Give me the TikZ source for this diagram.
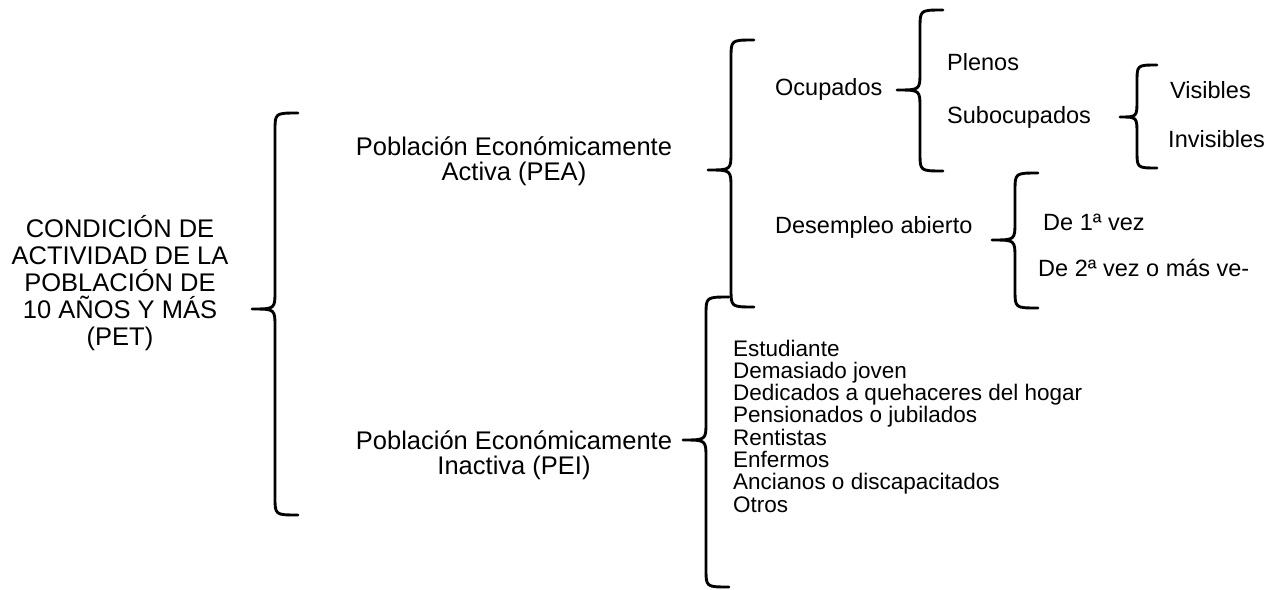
\documentclass[tikz,border=0pt]{standalone}
\usepackage{fontspec}
\setmainfont{Liberation Sans}
\usepackage{tikz}
\usetikzlibrary{positioning, calc}

\tikzset{
    texto/.style={inner sep=0pt, font=\fontsize{23.5}{27}\selectfont},
    titulo/.style={inner sep=0pt, align=center, font=\fontsize{25.5}{27}\selectfont},
    lista/.style={inner sep=0pt, anchor=base west, font=\fontsize{22.5}{26}\selectfont},
    llavetrazo/.style={line width=2.9pt, line cap=round, line join=round}
}

% llave: tip x, tip y, top y, bottom y
\newcommand{\llave}[4]{%
    \draw[llavetrazo] ({#1+46},#3) .. controls ({#1+23},#3) .. ({#1+23},{#3+18})
        -- ({#1+23},{#2-18}) .. controls ({#1+23},#2) .. (#1,#2)
        .. controls ({#1+23},#2) .. ({#1+23},{#2+18})
        -- ({#1+23},{#4-18}) .. controls ({#1+23},#4) .. ({#1+46},#4);}

\begin{document}
\begin{tikzpicture}[x=1pt, y=-1pt]
    \useasboundingbox (0,0) rectangle (1273,589);

    % raiz
    \node[titulo] (pet) at (120,283)
        {CONDICIÓN DE\\ACTIVIDAD DE LA\\POBLACIÓN DE\\10 AÑOS Y MÁS\\(PET)};
    \llave{252}{309}{113}{515}

    % activa
    \node[titulo, font=\fontsize{25.5}{25}\selectfont] (pea) at (514,161)
        {Población Económicamente\\Activa (PEA)};
    \llave{708}{170}{40}{307}

    \node[texto, anchor=base west] (ocupados) at (775,95) {Ocupados};
    \llave{897}{90}{10}{171}
    \node[texto, anchor=base west] (plenos) at (947,70) {Plenos};
    \node[texto, anchor=base west] (subocupados) at (947,123) {Subocupados};
    \draw[llavetrazo] (1157,65) .. controls (1137,65) .. (1137,82) -- (1137,100)
        .. controls (1137,117) .. (1120,117) .. controls (1137,117) .. (1137,134)
        -- (1137,151) .. controls (1137,168) .. (1157,168);
    \node[texto, anchor=base west] (visibles) at (1170,98) {Visibles};
    \node[texto, anchor=base west] (invisibles) at (1168,147) {Invisibles};

    \node[texto, anchor=base west] (desempleo) at (775,233) {Desempleo abierto};
    \llave{992}{240}{173}{308}
    \node[texto, anchor=base west] (primera) at (1043,230) {De 1ª vez};
    \node[texto, anchor=base west] (segunda) at (1038,276) {De 2ª vez o más ve-};

    % inactiva
    \node[titulo, font=\fontsize{25.5}{25}\selectfont] (pei) at (514,455)
        {Población Económicamente\\Inactiva (PEI)};
    \llave{683}{440}{297}{587}

    \foreach \cat [count=\i] in {Estudiante, Demasiado joven,
        Dedicados a quehaceres del hogar, Pensionados o jubilados, Rentistas,
        Enfermos, Ancianos o discapacitados, Otros}
        \node[lista] (inact\i) at (733,{356+22.3*(\i-1)}) {\cat};
\end{tikzpicture}
\end{document}
